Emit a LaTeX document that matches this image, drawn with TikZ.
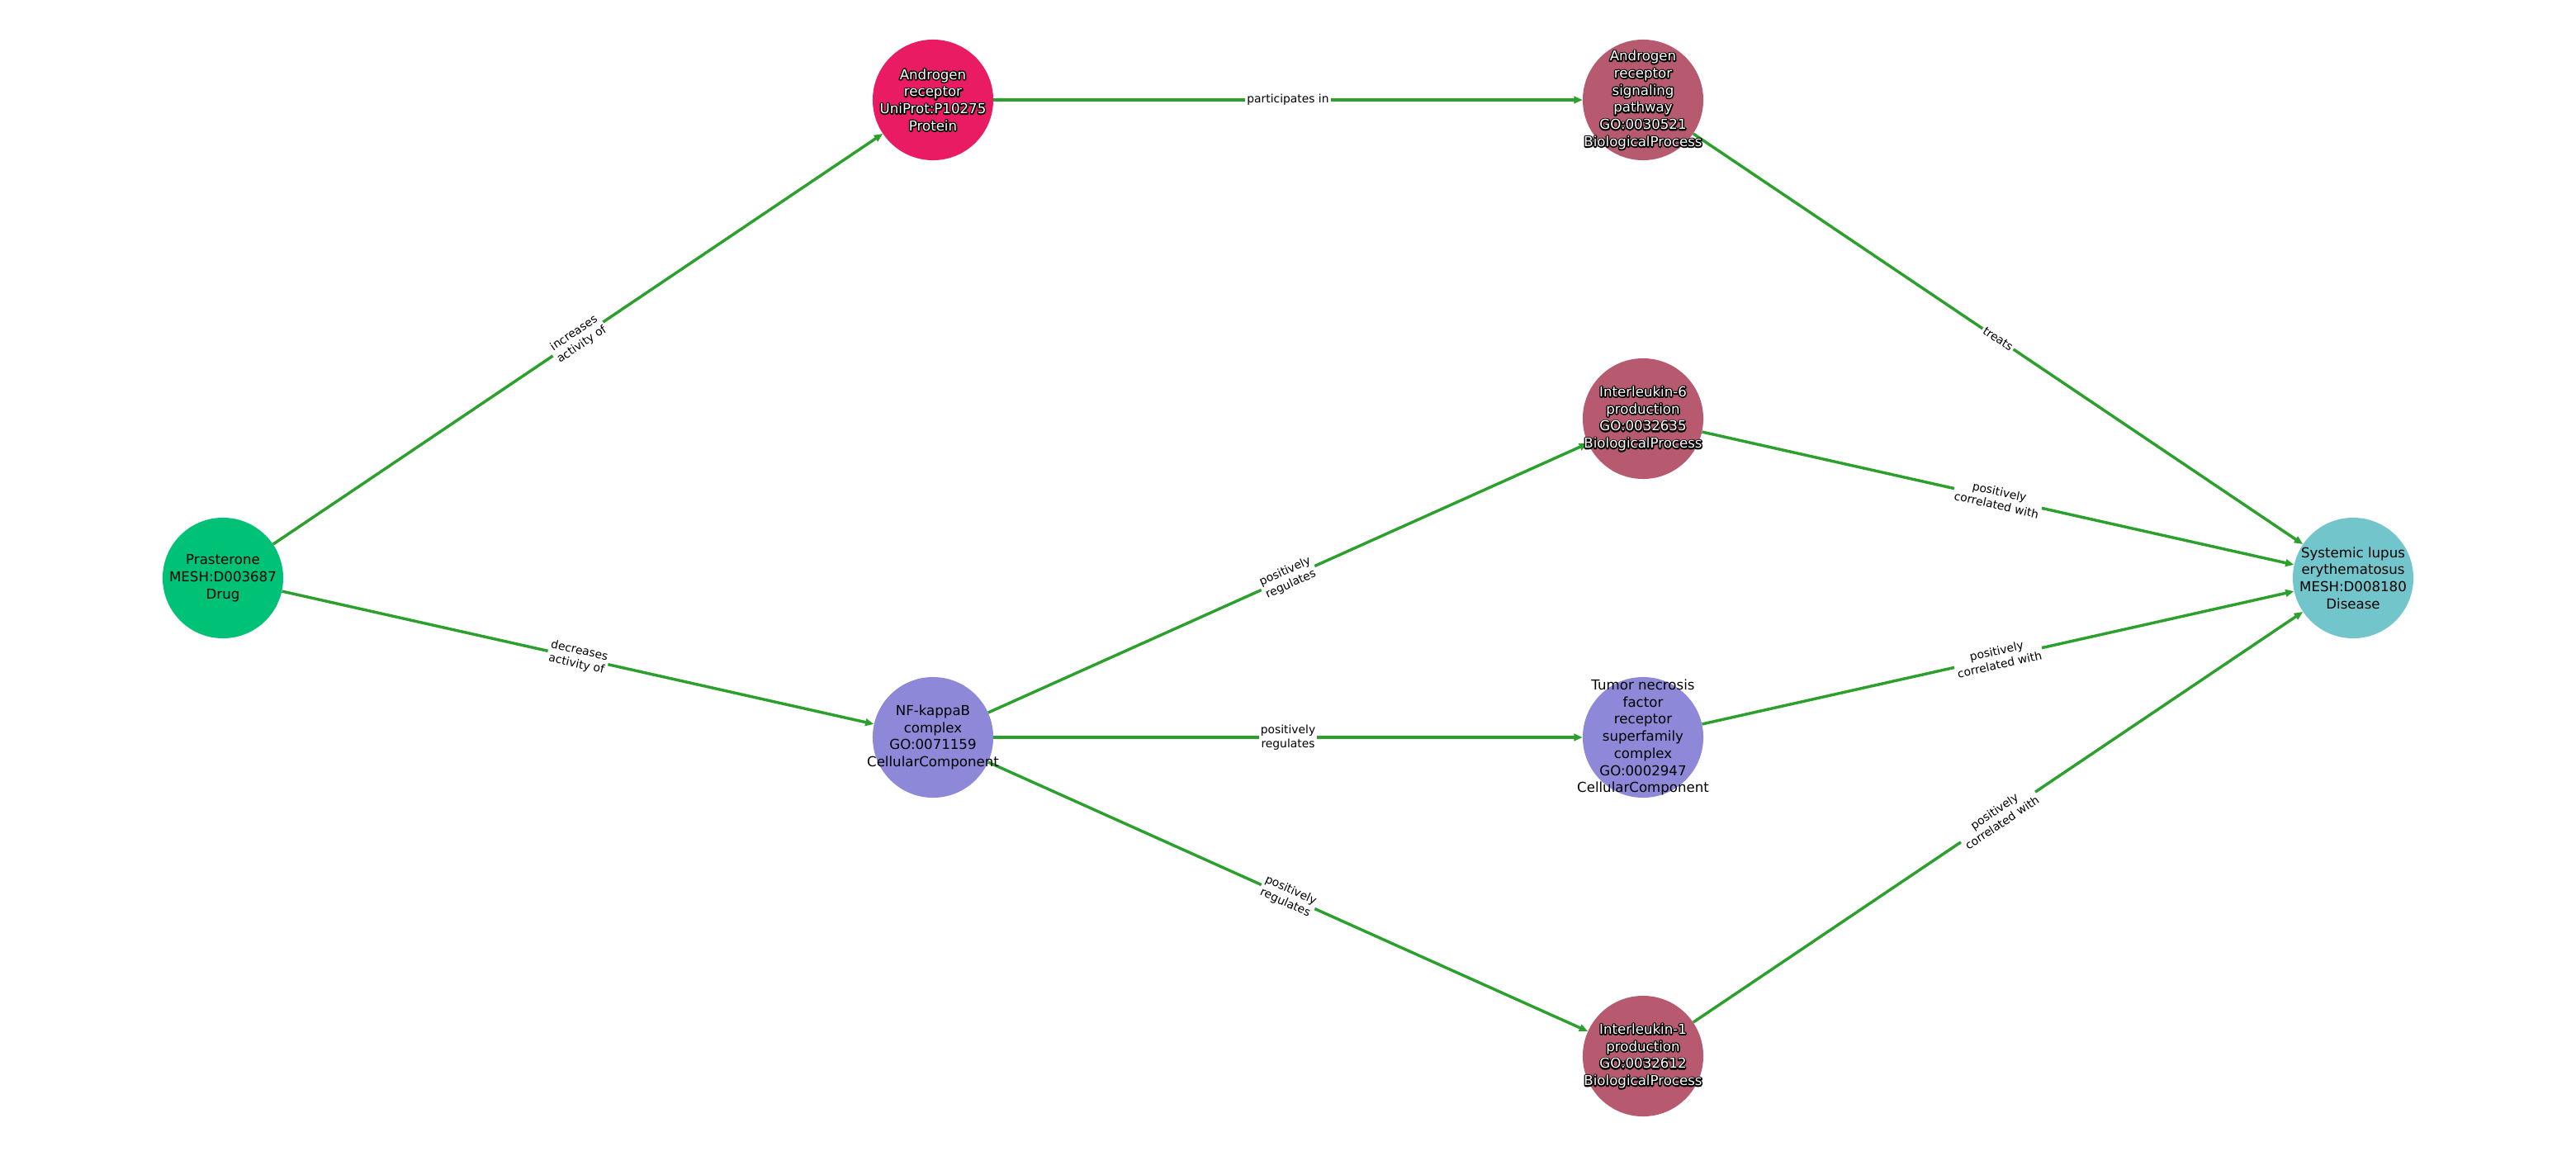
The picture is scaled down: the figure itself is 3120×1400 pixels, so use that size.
\documentclass[tikz,border=0pt]{standalone}
\usepackage{fontspec}
\setmainfont{DejaVu Sans}
\usetikzlibrary{arrows.meta}
\definecolor{edgegreen}{RGB}{44,160,44}
\definecolor{drugc}{RGB}{0,194,118}
\definecolor{protc}{RGB}{233,27,98}
\definecolor{bioc}{RGB}{183,90,112}
\definecolor{cellc}{RGB}{141,136,216}
\definecolor{disc}{RGB}{114,198,203}
\tikzset{
  circ/.style={circle, minimum size=1.46in, inner sep=0pt, draw=none},
  ntext/.style={align=center, inner sep=0pt, font=\fontsize{12pt}{15pt}\selectfont},
  elabel/.style={fill=white, inner sep=1.5pt, align=center, sloped, midway,
    font=\fontsize{10pt}{12pt}\selectfont, text=black},
  edge/.style={draw=edgegreen, line width=2.5pt, -{Triangle[length=7.5pt,width=6.2pt]}},
}
\newcommand{\strokeon}{\special{pdf:literal direct 2 Tr 2.2 w 1 j 0 0 0 RG}}
\newcommand{\strokeoff}{\special{pdf:literal direct 0 Tr}}
\newcommand{\outlinedtext}[2]{%
  \node[ntext, text=black] at (#1) {\strokeon#2\strokeoff};
  \node[ntext, text=white] at (#1) {#2};
}
\begin{document}
\begin{tikzpicture}[x=0.01in, y=-0.01in]
\useasboundingbox (0,0) rectangle (3120,1400);
% nodes
\node[circ, fill=drugc] (pra) at (270,700) {};
\node[circ, fill=protc] (ar) at (1130,121) {};
\node[circ, fill=bioc] (ars) at (1990,121) {};
\node[circ, fill=bioc] (il6) at (1990,507) {};
\node[circ, fill=cellc] (nfk) at (1130,893) {};
\node[circ, fill=cellc] (tnf) at (1990,893) {};
\node[circ, fill=bioc] (il1) at (1990,1279) {};
\node[circ, fill=disc] (sle) at (2850,700) {};
% edges
\draw[edge] (pra) -- node[elabel] {increases\\activity of} (ar);
\draw[edge] (pra) -- node[elabel] {decreases\\activity of} (nfk);
\draw[edge] (ar) -- node[elabel] {participates in} (ars);
\draw[edge] (ars) -- node[elabel] {treats} (sle);
\draw[edge] (nfk) -- node[elabel] {positively\\regulates} (il6);
\draw[edge] (nfk) -- node[elabel] {positively\\regulates} (tnf);
\draw[edge] (nfk) -- node[elabel] {positively\\regulates} (il1);
\draw[edge] (il6) -- node[elabel] {positively\\correlated with} (sle);
\draw[edge] (tnf) -- node[elabel] {positively\\correlated with} (sle);
\draw[edge] (il1) -- node[elabel] {positively\\correlated with} (sle);
% node texts
\node[ntext] (prat) at (pra) {Prasterone\\MESH:D003687\\Drug};
\outlinedtext{ar}{Androgen\\receptor\\UniProt:P10275\\Protein}
\outlinedtext{ars}{Androgen\\receptor\\signaling\\pathway\\GO:0030521\\BiologicalProcess}
\outlinedtext{il6}{Interleukin-6\\production\\GO:0032635\\BiologicalProcess}
\outlinedtext{il1}{Interleukin-1\\production\\GO:0032612\\BiologicalProcess}
\node[ntext] (nfkt) at (nfk) {NF-kappaB\\complex\\GO:0071159\\CellularComponent};
\node[ntext] (tnft) at (tnf) {Tumor necrosis\\factor\\receptor\\superfamily\\complex\\GO:0002947\\CellularComponent};
\node[ntext] (slet) at (sle) {Systemic lupus\\erythematosus\\MESH:D008180\\Disease};
\end{tikzpicture}
\end{document}
